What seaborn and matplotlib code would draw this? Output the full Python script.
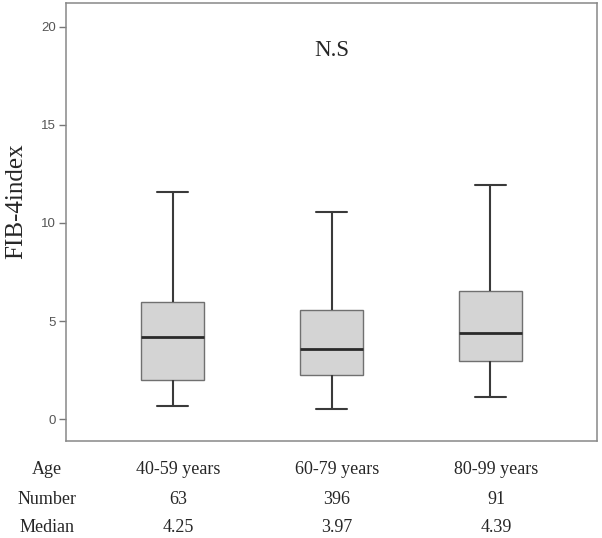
import numpy as np
import pandas as pd
import matplotlib
matplotlib.use("Agg")
import matplotlib.pyplot as plt
import matplotlib.transforms as mtransforms
import seaborn as sns

# five-number summaries (whisker low, Q1, median, Q3, whisker high)
age_groups = ["40-59 years", "60-79 years", "80-99 years"]
whisker_low = [0.69, 0.52, 1.12]
q1 = [2.02, 2.26, 2.95]
median = [4.18, 3.57, 4.40]
q3 = [5.96, 5.57, 6.54]
whisker_high = [11.59, 10.55, 11.95]

numbers = ["63", "396", "91"]
median_labels = ["4.25", "3.97", "4.39"]
yticks = [0, 5, 10, 15, 20]


def build_frame():
    rows = []
    for i, g in enumerate(age_groups):
        for v in (whisker_low[i], q1[i], median[i], q3[i], whisker_high[i]):
            rows.append({"age": g, "fib4": v})
    return pd.DataFrame(rows)


def main():
    sns.set_style("white")
    data = build_frame()

    fig = plt.figure(figsize=(6.02, 5.38), dpi=100)
    ax = fig.add_axes([66 / 602, 1 - 441 / 538, (597 - 66) / 602, (441 - 3.3) / 538])

    sns.boxplot(data=data, x="age", y="fib4", order=age_groups, ax=ax,
                whis=(0, 100), width=0.4, color="#d4d4d4", saturation=1,
                linecolor="#707070", linewidth=1.0,
                whiskerprops=dict(color="#3a3a3a", linewidth=1.5),
                capprops=dict(color="#3a3a3a", linewidth=1.5),
                medianprops=dict(color="#2a2a2a", linewidth=2.0),
                showfliers=False)

    ax.set_xlim(-0.67, 2.67)
    ax.set_ylim(-1.11, 21.19)
    ax.set_yticks(yticks)
    ax.set_yticklabels([str(t) for t in yticks], fontfamily="Liberation Sans",
                       fontsize=9.5, color="#555555")
    ax.tick_params(axis="y", direction="out", length=5, width=1, pad=2,
                   color="#777777", left=True)
    ax.set_xticks([])
    ax.set_xlabel("")
    ax.set_ylabel("")
    for s in ax.spines.values():
        s.set_color("#888888")
        s.set_linewidth(1.1)

    fig.text(16 / 602, 1 - 201.5 / 538, "FIB-4index", rotation=90, ha="center", va="center",
             fontfamily="Liberation Serif", fontsize=18)

    ax.text(1, 18.78, "N.S", ha="center", va="center", fontfamily="Liberation Serif",
            fontsize=16.5)

    trans = mtransforms.blended_transform_factory(ax.transData, fig.transFigure)
    row_y = [1 - 469 / 538, 1 - 499 / 538, 1 - 528 / 538]
    row_names = ["Age", "Number", "Median"]
    for name, y in zip(row_names, row_y):
        fig.text(47 / 602, y, name, ha="center", va="center",
                 fontfamily="Liberation Serif", fontsize=13)
    for i in range(3):
        for vals, y in zip([age_groups, numbers, median_labels], row_y):
            ax.text(i + 0.035, y, vals[i], transform=trans, ha="center", va="center",
                    fontfamily="Liberation Serif", fontsize=13, clip_on=False)

    fig.savefig("out.png", dpi=100)


if __name__ == "__main__":
    main()
